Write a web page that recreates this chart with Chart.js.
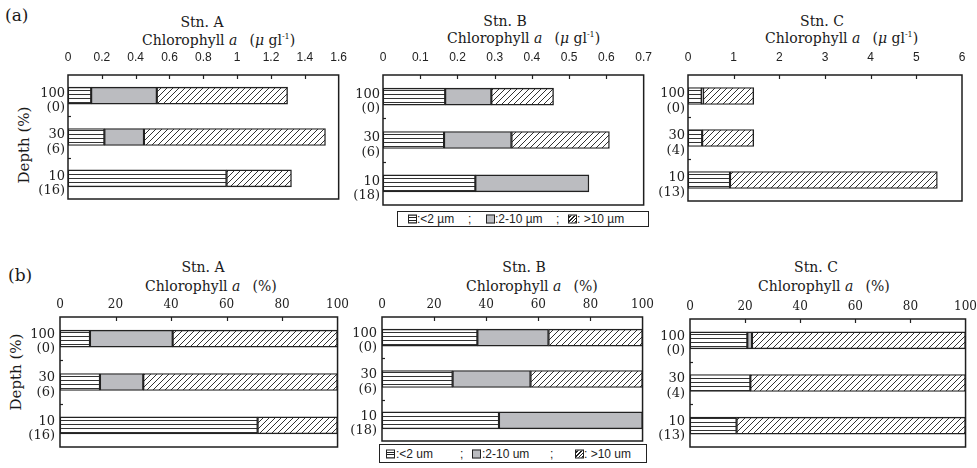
<!DOCTYPE html>
<html><head><meta charset="utf-8">
<script src="https://cdn.jsdelivr.net/npm/chart.js@4.4.1/dist/chart.umd.min.js"></script>
<style>
html,body{margin:0;padding:0;background:#fff;}
#root{position:relative;width:977px;height:468px;overflow:hidden;font-family:'DejaVu Serif',serif;color:#1a1a1a;}
canvas{position:absolute;}
.t{position:absolute;white-space:nowrap;font-size:14px;line-height:16px;}
.c{transform:translate(-50%,-50%);}
.l{transform:translate(0,-50%);}
.u{margin-left:12px;}
sup{font-size:8px;vertical-align:6px;line-height:0;}
.rot{position:absolute;white-space:nowrap;font-size:15px;transform:translate(-50%,-50%) rotate(-90deg);}
.lg{position:absolute;border:1px solid #222;font-family:'Liberation Sans',Arial,sans-serif;font-size:12px;color:#222;}
.lg span{position:absolute;top:50%;transform:translate(0,-50%);white-space:nowrap;}
.sw{width:7px;height:7px;border:1px solid #222;}
.h{background:repeating-linear-gradient(to bottom,#fff 0 1.5px,#222 1.5px 2.5px);}
.g{background:#bbbcc0;}
.d{background:repeating-linear-gradient(-45deg,#222 0 1.2px,#fff 1.2px 2.6px);}
</style></head>
<body><div id="root">
<div class="t" style="left:5px;top:15px;transform:translate(0,-50%);font-size:17px;">(a)</div>
<div class="t" style="left:8px;top:275px;transform:translate(0,-50%);font-size:17px;">(b)</div>
<div class="rot" style="left:24px;top:145px;">Depth (%)</div>
<div class="rot" style="left:16px;top:372px;">Depth (%)</div>

<div class="t c" style="left:202px;top:22px;">Stn. A</div>
<div class="t l" style="left:142px;top:40px;">Chlorophyll <i>a</i><span class="u">(<i>μ</i> gl<sup>-1</sup>)</span></div>
<div class="t c" style="left:505px;top:21px;">Stn. B</div>
<div class="t l" style="left:447px;top:38px;">Chlorophyll <i>a</i><span class="u">(<i>μ</i> gl<sup>-1</sup>)</span></div>
<div class="t c" style="left:822px;top:21px;">Stn. C</div>
<div class="t l" style="left:765px;top:38px;">Chlorophyll <i>a</i><span class="u">(<i>μ</i> gl<sup>-1</sup>)</span></div>

<div class="t c" style="left:203px;top:267px;">Stn. A</div>
<div class="t l" style="left:145px;top:286px;">Chlorophyll <i>a</i><span class="u">(%)</span></div>
<div class="t c" style="left:524px;top:267px;">Stn. B</div>
<div class="t l" style="left:466px;top:286px;">Chlorophyll <i>a</i><span class="u">(%)</span></div>
<div class="t c" style="left:816px;top:267px;">Stn. C</div>
<div class="t l" style="left:758px;top:286px;">Chlorophyll <i>a</i><span class="u">(%)</span></div>

<div class="lg" id="lgA" style="left:397px;top:211px;width:250px;height:14px;"></div>
<div class="lg" id="lgB" style="left:379px;top:444px;width:266px;height:17px;"></div>
</div>
<script>
// ---------- data ----------
const lightLevels = ['100', '30', '10'];
const depthA = ['(0)', '(6)', '(16)'];
const depthB = ['(0)', '(6)', '(18)'];
const depthC = ['(0)', '(4)', '(13)'];

const sizeClassesA = [':<2 \u00b5m', ':2-10 \u00b5m', ': >10 \u00b5m'];
const sizeClassesB = [':<2 um', ':2-10 um', ': >10 um'];

// (a) chlorophyll a (ug/l)
const absA_lt2 = [0.137, 0.215, 0.937];
const absA_2to10 = [0.388, 0.234, 0];
const absA_gt10 = [0.773, 1.073, 0.384];
const absB_lt2 = [0.167, 0.164, 0.248];
const absB_2to10 = [0.124, 0.181, 0.305];
const absB_gt10 = [0.167, 0.263, 0];
const absC_lt2 = [0.30, 0.31, 0.92];
const absC_2to10 = [0.03, 0, 0];
const absC_gt10 = [1.11, 1.13, 4.54];

// (b) chlorophyll a (%)
const pctA_lt2 = [10.8, 14.4, 71.2];
const pctA_2to10 = [29.8, 15.6, 0];
const pctA_gt10 = [59.4, 70.0, 28.8];
const pctB_lt2 = [36.6, 27.1, 44.9];
const pctB_2to10 = [27.3, 29.9, 55.1];
const pctB_gt10 = [36.1, 43.0, 0];
const pctC_lt2 = [20.8, 21.9, 16.9];
const pctC_2to10 = [1.7, 0, 0];
const pctC_gt10 = [77.5, 78.1, 83.1];

// tick values
const ticksAbsA = [0, 0.2, 0.4, 0.6, 0.8, 1, 1.2, 1.4, 1.6];
const ticksAbsB = [0, 0.1, 0.2, 0.3, 0.4, 0.5, 0.6, 0.7];
const ticksAbsC = [0, 1, 2, 3, 4, 5, 6];
const ticksPct = [0, 20, 40, 60, 80, 100];

// ---------- patterns ----------
function makePattern(draw, w, h) {
  const c = document.createElement('canvas'); c.width = w; c.height = h;
  const x = c.getContext('2d'); x.fillStyle = '#fff'; x.fillRect(0, 0, w, h);
  x.strokeStyle = '#333'; x.lineWidth = 1; draw(x);
  return x.createPattern(c, 'repeat');
}
const patH = makePattern(x => { x.beginPath(); x.moveTo(0, 3.5); x.lineTo(4, 3.5); x.stroke(); }, 4, 4);
const patD = makePattern(x => { x.beginPath(); x.moveTo(-1, 7); x.lineTo(7, -1); x.moveTo(-1, 1); x.lineTo(1, -1); x.moveTo(5, 7); x.lineTo(7, 5); x.stroke(); }, 6, 6);
const gray = '#bbbcc0';
const fills = [patH, gray, patD];

// ---------- legend ----------
function legend(id, names, pos) {
  const el = document.getElementById(id);
  const cls = ['h', 'g', 'd'];
  names.forEach((n, i) => {
    const s = document.createElement('span'); s.className = 'sw ' + cls[i]; s.style.left = pos[i][0] + 'px'; el.appendChild(s);
    const t = document.createElement('span'); t.textContent = n; t.style.left = pos[i][1] + 'px'; el.appendChild(t);
    if (i < 2) { const sc = document.createElement('span'); sc.textContent = ';'; sc.style.left = pos[i][2] + 'px'; el.appendChild(sc); }
  });
}
legend('lgA', sizeClassesA, [[10, 19, 70], [88, 97, 158], [170, 179]]);
legend('lgB', sizeClassesB, [[6, 16, 80], [92, 102, 170], [195, 204]]);

// ---------- charts ----------
const frame = {
  id: 'frame',
  afterDraw(chart) {
    const { ctx, chartArea: { left, top, right, bottom }, scales: { x, y } } = chart;
    ctx.save();
    ctx.strokeStyle = '#222'; ctx.lineWidth = 1.2;
    x.ticks.forEach(t => {
      const px = Math.round(x.getPixelForValue(t.value)) + 0.5;
      if (px > left + 2 && px < right - 2) { ctx.beginPath(); ctx.moveTo(px, top); ctx.lineTo(px, top + 4); ctx.stroke(); }
    });
    for (let i = 0; i < y.ticks.length - 1; i++) {
      const py = Math.round((y.getPixelForTick(i) + y.getPixelForTick(i + 1)) / 2) + 0.5;
      ctx.beginPath(); ctx.moveTo(left, py); ctx.lineTo(left + 3, py); ctx.stroke();
    }
    ctx.lineWidth = 1.5; ctx.strokeStyle = '#1e1e1e';
    ctx.strokeRect(left, top, right - left, bottom - top);
    ctx.restore();
  }
};

function panel(area, depth, series, ticks, opt) {
  const yW = 50, xH = 24, padR = 16, padB = 22;
  const cv = document.createElement('canvas');
  const W = yW + (area.r - area.l) + padR, H = xH + (area.b - area.t) + padB;
  cv.width = W; cv.height = H;
  cv.style.left = (area.l - yW) + 'px'; cv.style.top = (area.t - xH) + 'px';
  cv.style.width = W + 'px'; cv.style.height = H + 'px';
  document.getElementById('root').appendChild(cv);
  new Chart(cv, {
    type: 'bar',
    data: {
      labels: lightLevels.map((l, i) => [l, depth[i]]),
      datasets: series.map((d, i) => ({
        data: d, backgroundColor: fills[i], borderColor: '#222', borderWidth: 1.4,
        borderSkipped: false, barThickness: 17
      }))
    },
    options: {
      indexAxis: 'y', responsive: false, animation: false, devicePixelRatio: 1,
      layout: { padding: { left: 0, top: 0, right: padR, bottom: padB } },
      plugins: { legend: { display: false }, tooltip: { enabled: false } },
      scales: {
        x: {
          type: 'linear', position: 'top', stacked: true, min: ticks[0], max: ticks[ticks.length - 1],
          afterBuildTicks: s => { s.ticks = ticks.map(v => ({ value: v })); },
          afterFit: s => { s.height = xH; },
          grid: { display: false, drawTicks: false }, border: { display: false },
          ticks: { autoSkip: false, maxRotation: 0, padding: opt.xPad, color: '#222',
            font: opt.xFont, callback: v => String(v) }
        },
        y: {
          type: 'category', stacked: true,
          afterFit: s => { s.width = yW; },
          grid: { display: false, drawTicks: false }, border: { display: false },
          ticks: { autoSkip: false, padding: opt.yPad, labelOffset: opt.yOff, color: '#222',
            font: { family: 'DejaVu Serif', size: 13, lineHeight: 1.1 } }
        }
      }
    },
    plugins: [frame]
  });
}

const optA = { xPad: 10, xFont: { family: "'Liberation Sans Narrow','Liberation Sans',Arial", size: 12 }, yPad: 3, yOff: 5 };
const optB = { xPad: 5, xFont: { family: 'DejaVu Serif', size: 12 }, yPad: 5, yOff: 3 };

panel({ l: 68, t: 75, r: 341, b: 199 }, depthA, [absA_lt2, absA_2to10, absA_gt10], ticksAbsA, optA);
panel({ l: 383, t: 75, r: 646, b: 205 }, depthB, [absB_lt2, absB_2to10, absB_gt10], ticksAbsB, optA);
panel({ l: 688, t: 75, r: 962, b: 201 }, depthC, [absC_lt2, absC_2to10, absC_gt10], ticksAbsC, optA);
panel({ l: 60, t: 317, r: 338, b: 447 }, depthA, [pctA_lt2, pctA_2to10, pctA_gt10], ticksPct, optB);
panel({ l: 382, t: 317, r: 643, b: 441 }, depthB, [pctB_lt2, pctB_2to10, pctB_gt10], ticksPct, optB);
panel({ l: 690, t: 319, r: 966, b: 447 }, depthC, [pctC_lt2, pctC_2to10, pctC_gt10], ticksPct, optB);
</script>
</body></html>
